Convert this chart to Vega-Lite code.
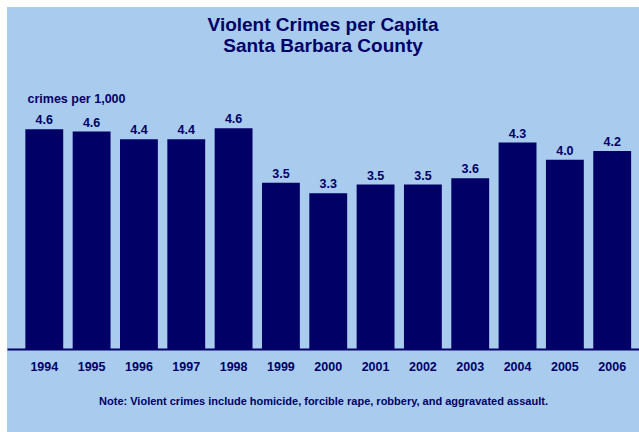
{
  "$schema": "https://vega.github.io/schema/vega-lite/v6.json",
  "width": 632,
  "height": 425,
  "autosize": "none",
  "padding": {"left": 7, "top": 7, "right": 0, "bottom": 0},
  "background": "white",
  "config": {
    "view": {"fill": "#A9CBEE", "stroke": null},
    "font": "Liberation Sans",
    "axis": {"grid": false}
  },
  "title": {
    "text": ["Violent Crimes per Capita", "Santa Barbara County"],
    "fontSize": 19,
    "fontWeight": "bold",
    "color": "#000066",
    "anchor": "middle",
    "frame": "group",
    "offset": -49,
    "lineHeight": 21
  },
  "data": {
    "values": [
      {"year": "1994", "value": 4.60, "label": "4.6"},
      {"year": "1995", "value": 4.55, "label": "4.6"},
      {"year": "1996", "value": 4.39, "label": "4.4"},
      {"year": "1997", "value": 4.39, "label": "4.4"},
      {"year": "1998", "value": 4.62, "label": "4.6"},
      {"year": "1999", "value": 3.48, "label": "3.5"},
      {"year": "2000", "value": 3.26, "label": "3.3"},
      {"year": "2001", "value": 3.44, "label": "3.5"},
      {"year": "2002", "value": 3.44, "label": "3.5"},
      {"year": "2003", "value": 3.57, "label": "3.6"},
      {"year": "2004", "value": 4.32, "label": "4.3"},
      {"year": "2005", "value": 3.96, "label": "4.0"},
      {"year": "2006", "value": 4.14, "label": "4.2"}
    ]
  },
  "encoding": {
    "x": {
      "field": "year",
      "type": "ordinal",
      "scale": {"paddingInner": 0.2, "paddingOuter": 0.277, "align": 0.7},
      "axis": {
        "orient": "bottom",
        "offset": -83,
        "labelAngle": 0,
        "ticks": false,
        "tickSize": 0,
        "labelPadding": 11,
        "labelFontSize": 12.5,
        "labelFontWeight": "bold",
        "labelColor": "#000066",
        "domainColor": "#000066",
        "domainWidth": 2,
        "title": "Note: Violent crimes include homicide, forcible rape, robbery, and aggravated assault.",
        "titleFontSize": 11,
        "titleFontWeight": "bold",
        "titleColor": "#000066",
        "titlePadding": 23
      }
    }
  },
  "layer": [
    {
      "mark": {"type": "bar", "color": "#000066"},
      "encoding": {
        "y": {
          "field": "value",
          "type": "quantitative",
          "scale": {"domain": [-1.736, 7.155], "nice": false, "zero": false},
          "axis": {
            "title": "crimes per 1,000",
            "titleAngle": 0,
            "titleX": 20,
            "titleY": 95,
            "titleAlign": "left",
            "titleBaseline": "alphabetic",
            "titleFontSize": 12.5,
            "titleFontWeight": "bold",
            "titleColor": "#000066",
            "domain": false,
            "ticks": false,
            "labels": false,
            "grid": false
          }
        },
        "y2": {"datum": 0}
      }
    },
    {
      "mark": {
        "type": "text",
        "baseline": "alphabetic",
        "dy": -5,
        "fontSize": 12.5,
        "fontWeight": "bold",
        "color": "#000066"
      },
      "encoding": {
        "y": {"field": "value", "type": "quantitative"},
        "text": {"field": "label"}
      }
    }
  ]
}
